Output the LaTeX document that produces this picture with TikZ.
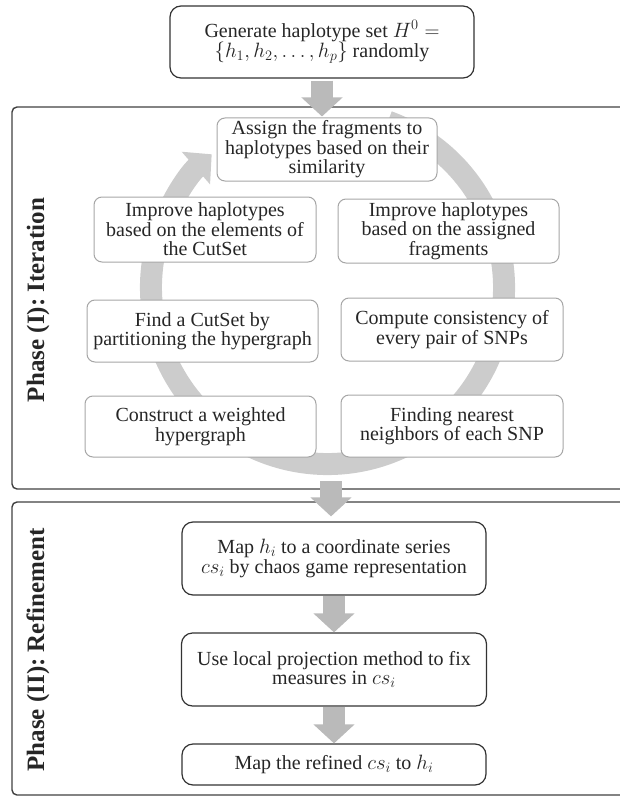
\documentclass[tikz,border=0pt]{standalone}
\usepackage{fontspec}
\setmainfont{Liberation Serif}
\usetikzlibrary{arrows.meta}

\begin{document}
\begin{tikzpicture}[x=1pt,y=-1pt,
  box/.style={draw=black!80,line width=1.2pt,rounded corners=11pt,fill=white,
    text=black!85,align=center,inner sep=0pt,font=\fontsize{20}{19.5}\selectfont},
  cyclebox/.style={box,draw=black!35,line width=1pt,rounded corners=8pt},
  phase/.style={draw=black!75,line width=1.4pt,rounded corners=5pt},
  phaselabel/.style={rotate=90,text=black!85,font=\fontsize{25}{25}\selectfont\bfseries},
  flow/.style={draw=black!27,line width=22pt,-{Triangle[width=40pt,length=19pt]}},
  ring/.style={draw=black!20,line width=22pt,-{Triangle[width=42pt,length=21pt]}}]
\useasboundingbox (0,0) rectangle (619,797);

%Shape: Phase frames
\draw[phase] (12,107) rectangle (640,489);
\draw[phase] (12,502) rectangle (640,795);

%Curve Lines: cycle ring
\coordinate (ringc) at (327.5,287.5);
\draw[ring] (ringc) ++(-70:176.5) arc[start angle=-70,end angle=229,radius=176.5];

% Text Node
\node[box,minimum width=304,minimum height=72] (gen) at (322,42)
  {Generate haplotype set $H^0 =$\\$\{h_1,h_2,\ldots,h_p\}$ randomly};

%Phase I boxes
\node[cyclebox,minimum width=220,minimum height=63] (assign) at (327,149.5)
  {Assign the fragments to\\haplotypes based on their\\similarity};
\node[cyclebox,minimum width=222,minimum height=65] (impL) at (205,229.5)
  {Improve haplotypes\\based on the elements of\\the CutSet};
\node[cyclebox,minimum width=221,minimum height=64] (impR) at (448.5,231)
  {Improve haplotypes\\based on the assigned\\fragments};
\node[cyclebox,minimum width=231,minimum height=62] (find) at (202.5,331)
  {Find a CutSet by\\partitioning the hypergraph};
\node[cyclebox,minimum width=222,minimum height=63] (comp) at (452,329.5)
  {Compute consistency of\\every pair of SNPs};
\node[cyclebox,minimum width=231,minimum height=61] (cons) at (200.5,426.5)
  {Construct a weighted\\hypergraph};
\node[cyclebox,minimum width=222,minimum height=62] (findn) at (452,426)
  {Finding nearest\\neighbors of each SNP};

%Phase II boxes
\node[box,minimum width=304,minimum height=73] (map1) at (334,558.5)
  {Map $h_i$ to a coordinate series\\$cs_i$ by chaos game representation};
\node[box,minimum width=305,minimum height=73] (use) at (334,669.5)
  {Use local projection method to fix\\measures in $cs_i$};
\node[box,minimum width=304,minimum height=41] (mapr) at (334,764.5)
  {Map the refined $cs_i$ to $h_i$};

% Text Node
\node[phaselabel] (lab1) at (38,300) {Phase (I): Iteration};
\node[phaselabel] (lab2) at (38,650) {Phase (II): Refinement};

%Block arrows
\coordinate (loopout) at (331,481);
\draw[flow] ([yshift=-2pt]gen.south) -- ([yshift=1pt]gen.south |- assign.north);
\draw[flow] (loopout) -- ([yshift=5pt]loopout |- map1.north);
\draw[flow] (map1.south) -- (use.north);
\draw[flow] (use.south) -- (mapr.north);

\end{tikzpicture}
\end{document}
